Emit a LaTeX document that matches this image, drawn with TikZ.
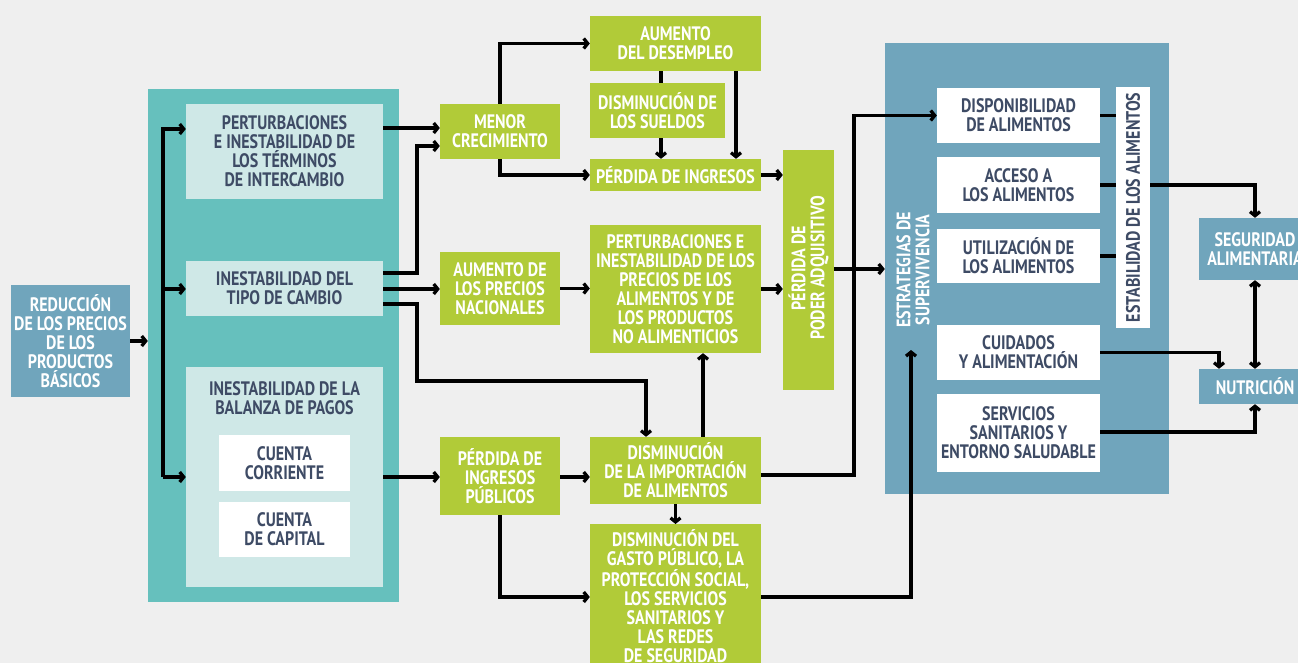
\documentclass[tikz,border=0pt]{standalone}
\usepackage{fontspec}
\setmainfont{PT Sans}[FakeStretch=0.82]
\usetikzlibrary{arrows.meta,calc}
\definecolor{bg}{HTML}{EFEFEF}
\definecolor{tealbg}{HTML}{66C0BD}
\definecolor{ltl}{HTML}{CFE8E7}
\definecolor{dtx}{HTML}{3E4B65}
\definecolor{blu}{HTML}{70A5BC}
\definecolor{grn}{HTML}{B1CB38}
\begin{document}
\begin{tikzpicture}[x=1pt,y=-1pt,
  sz/.style 2 args={minimum width=#1, minimum height=#2},
  txt/.style={inner sep=0pt, align=center, font=\bfseries\fontsize{19.5}{19}\selectfont},
  box/.style={rectangle, txt},
  gbox/.style={box, fill=grn, text=white},
  bbox/.style={box, fill=blu, text=white},
  lbox/.style={box, fill=ltl, text=dtx},
  wbox/.style={box, fill=white, text=dtx},
  ln/.style={line width=3.3pt, black},
  arr/.style={ln, -{Straight Barb[length=4pt,width=10pt]}},
  darr/.style={ln, {Straight Barb[length=4pt,width=10pt]}-{Straight Barb[length=4pt,width=10pt]}},
]
\useasboundingbox[fill=bg] (0,0) rectangle (1298,663);

% helper coordinates
\coordinate (ya) at (0,128);
\coordinate (yb) at (0,146);
\coordinate (yc) at (0,273);
\coordinate (yd) at (0,304);
\coordinate (ye) at (0,381);
\coordinate (yf) at (0,477);
\coordinate (yg) at (0,597);
\coordinate (yh) at (0,475);
\coordinate (yi) at (0,269);
\coordinate (yj) at (0,432);
\coordinate (ys) at (0,350);
\coordinate (xk) at (417,0);
\coordinate (xl) at (646,0);
\coordinate (xm) at (661,0);
\coordinate (xn) at (736,0);
\coordinate (xo) at (703,0);
\coordinate (xp) at (854,0);
\coordinate (xq) at (911,0);
\coordinate (xr) at (1219,0);
\coordinate (b1) at (163,129);
\coordinate (b2) at (163,289);
\coordinate (b3) at (163,477);

% left block
\node[bbox, sz={119}{112}] (red) at (70.5,341) {REDUCCIÓN\\DE LOS PRECIOS\\DE LOS\\PRODUCTOS\\BÁSICOS};
\node[box, fill=tealbg, sz={251}{513}] (teal) at (273.5,345.5) {};
\node[lbox, sz={197}{95}] (pert) at (284.5,151.5) {PERTURBACIONES\\E INESTABILIDAD DE\\LOS TÉRMINOS\\DE INTERCAMBIO};
\node[lbox, sz={197}{55}] (tipo) at (284.5,288.5) {INESTABILIDAD DEL\\TIPO DE CAMBIO};
\node[lbox, sz={197}{220}] (bal) at (284.5,477) {};
\node[txt, text=dtx] (baltxt) at (284.5,398.5) {INESTABILIDAD DE LA\\BALANZA DE PAGOS};
\node[wbox, sz={131}{56}] (cc) at (284.5,463) {CUENTA\\CORRIENTE};
\node[wbox, sz={131}{55}] (ck) at (284.5,529.5) {CUENTA\\DE CAPITAL};

% middle
\node[gbox, sz={120}{55}] (menor) at (500,131.5) {MENOR\\CRECIMIENTO};
\node[gbox, sz={171}{55}] (desemp) at (675.5,43.5) {AUMENTO\\DEL DESEMPLEO};
\node[gbox, sz={135}{55}] (suel) at (657.5,110.5) {DISMINUCIÓN DE\\LOS SUELDOS};
\node[gbox, sz={171}{32}] (ingr) at (675.5,175) {PÉRDIDA DE INGRESOS};
\node[gbox, sz={120}{73}] (prec) at (500,288.5) {AUMENTO DE\\LOS PRECIOS\\NACIONALES};
\node[gbox, sz={171}{128}] (pertp) at (675.5,289) {PERTURBACIONES E\\INESTABILIDAD DE LOS\\PRECIOS DE LOS\\ALIMENTOS Y DE\\LOS PRODUCTOS\\NO ALIMENTICIOS};
\node[gbox, sz={120}{78}] (publ) at (500,476) {PÉRDIDA DE\\INGRESOS\\PÚBLICOS};
\node[gbox, sz={171}{67}] (impo) at (675.5,470.5) {DISMINUCIÓN\\DE LA IMPORTACIÓN\\DE ALIMENTOS};
\node[gbox, sz={171}{156}, anchor=north] (gasto) at (675.5,524) {};
\node[txt, text=white, anchor=north] (gastotxt) at (675.5,529) {DISMINUCIÓN DEL\\GASTO PÚBLICO, LA\\PROTECCIÓN SOCIAL,\\LOS SERVICIOS\\SANITARIOS Y\\LAS REDES\\DE SEGURIDAD};
\node[gbox, sz={51}{240}] (poder) at (808.5,270) {};
\node[txt, text=white, rotate=90] (podertxt) at (808.5,268) {PÉRDIDA DE\\PODER ADQUISITIVO};

% right block
\node[box, fill=blu, sz={284}{451}] (estr) at (1027,268.5) {};
\node[txt, text=white, rotate=90] (estrtxt) at (913,270) {ESTRATEGIAS DE\\SUPERVIVENCIA};
\node[wbox, sz={163}{55}] (disp) at (1018.5,115.5) {DISPONIBILIDAD\\DE ALIMENTOS};
\node[wbox, sz={163}{56}] (acc) at (1018.5,185) {ACCESO A\\LOS ALIMENTOS};
\node[wbox, sz={163}{54}] (util) at (1018.5,256) {UTILIZACIÓN DE\\LOS ALIMENTOS};
\node[wbox, sz={163}{55}] (cuid) at (1018.5,352.5) {CUIDADOS\\Y ALIMENTACIÓN};
\node[wbox, sz={163}{78}] (serv) at (1018.5,433) {SERVICIOS\\SANITARIOS Y\\ENTORNO SALUDABLE};
\node[box, fill=white, sz={34}{241}] (estab) at (1133,207.5) {};
\node[txt, text=dtx, rotate=90] (estabtxt) at (1133,207.5) {ESTABILIDAD DE LOS ALIMENTOS};
\node[bbox, sz={112}{62}] (seg) at (1255,249) {SEGURIDAD\\ALIMENTARIA};
\node[bbox, sz={112}{35}] (nut) at (1255,386.5) {NUTRICIÓN};

% connectors
\draw[arr] (red.east) -- (red.east -| teal.west);
\draw[arr] (b3) -- (b1) -- (b1 -| pert.west);
\draw[arr] (b2) -- (b2 -| tipo.west);
\draw[arr] (b3) -- (b3 -| bal.west);
\draw[arr] (pert.east |- ya) -- (menor.west |- ya);
\draw[arr] (tipo.east |- yc) -- (xk |- yc) -- (xk |- yb) -- (menor.west |- yb);
\draw[arr] (tipo.east |- b2) -- (prec.west |- b2);
\draw[arr] (tipo.east |- yd) -- (xk |- yd) -- (xk |- ye) -- (xl |- ye) -- (xl |- impo.north);
\draw[arr] (bal.east |- yf) -- (publ.west |- yf);
\draw[arr] (menor.north) |- (desemp.west);
\draw[arr] (menor.south) |- (ingr.west);
\draw[ln] (xm |- desemp.south) -- (xm |- suel.north);
\draw[arr] (xm |- suel.south) -- (xm |- ingr.north);
\draw[arr] (xn |- desemp.south) -- (xn |- ingr.north);
\draw[arr] (ingr.east) -- (ingr.east -| poder.west);
\draw[arr] (prec.east) -- (prec.east -| pertp.west);
\draw[arr] (pertp.east) -- (pertp.east -| poder.west);
\draw[arr] (publ.east |- yf) -- (impo.west |- yf);
\draw[arr] (xo |- impo.north) -- (xo |- pertp.south);
\draw[arr] (impo.south) -- (gasto.north);
\draw[arr] (publ.south) |- (gasto.west |- yg);
\draw[arr] (gasto.east |- yg) -- (xq |- yg) -- (xq |- ys);
\draw[arr] (impo.east |- yh) -- (xp |- yh) -- (xp |- disp.west) -- (disp.west);
\draw[arr] (poder.east |- yi) -- (estr.west |- yi);
\draw[ln] (disp.east) -- (disp.east -| estab.west);
\draw[ln] (util.east) -- (util.east -| estab.west);
\draw[ln] (acc.east) -- (acc.east -| estab.west);
\draw[arr] (estab.east |- acc.east) -| (seg.north);
\draw[arr] (cuid.east) -| (xr |- nut.north);
\draw[arr] (serv.east |- yj) -| (nut.south);
\draw[darr] (seg.south) -- (nut.north);
\end{tikzpicture}
\end{document}
